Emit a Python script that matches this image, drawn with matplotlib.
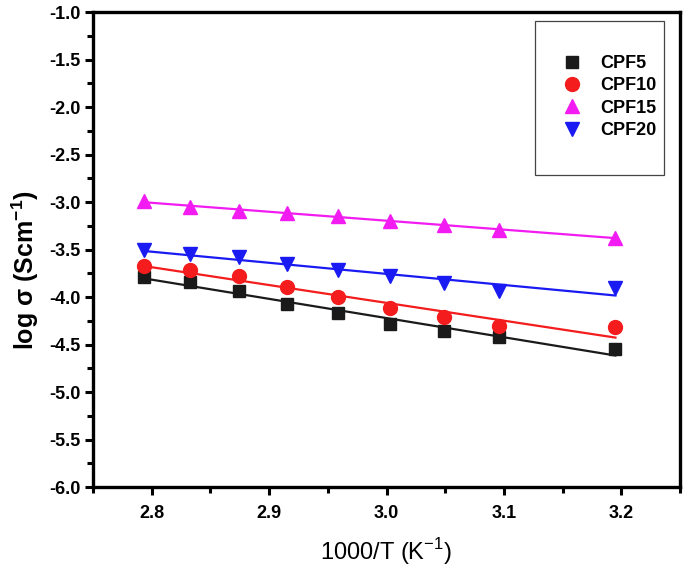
import numpy as np
import matplotlib
matplotlib.use("Agg")
from matplotlib import pyplot as plt
from matplotlib.ticker import MultipleLocator, FormatStrFormatter
from matplotlib.patches import Rectangle

plt.rcParams['font.family'] = ['Liberation Sans', 'DejaVu Sans']

inv_T = [2.793, 2.833, 2.874, 2.915, 2.959, 3.003, 3.049, 3.096, 3.195]
cpf5 = [-3.79, -3.84, -3.94, -4.07, -4.17, -4.28, -4.36, -4.42, -4.55]
cpf10 = [-3.67, -3.72, -3.78, -3.89, -4.00, -4.12, -4.21, -4.31, -4.32]
cpf15 = [-2.99, -3.05, -3.09, -3.11, -3.15, -3.20, -3.24, -3.29, -3.38]
cpf20 = [-3.505, -3.55, -3.58, -3.65, -3.72, -3.78, -3.85, -3.94, -3.90]

series = [("CPF5", cpf5, "s", "#1a1a1a", 9),
          ("CPF10", cpf10, "o", "#f41c1c", 10),
          ("CPF15", cpf15, "^", "#f21cf2", 10),
          ("CPF20", cpf20, "v", "#1a1af2", 10)]

fig = plt.figure(figsize=(6.85, 5.75), dpi=100)
ax = fig.add_axes([0.1358, 0.153, 0.8569, 0.826])

x = np.array(inv_T)
for name, y, mk, col, ms in series:
    ax.plot(x, y, linestyle="none", marker=mk, color=col, markersize=ms, label=name)
    k, b = np.polyfit(x, y, 1)
    ax.plot(x[[0, -1]], k * x[[0, -1]] + b, color=col, lw=1.6)

ax.set_xlim(2.75, 3.25)
ax.set_ylim(-6.0, -1.0)
ax.xaxis.set_major_locator(MultipleLocator(0.1))
ax.xaxis.set_minor_locator(MultipleLocator(0.05))
ax.yaxis.set_major_locator(MultipleLocator(0.5))
ax.yaxis.set_minor_locator(MultipleLocator(0.25))
ax.xaxis.set_major_formatter(FormatStrFormatter("%.1f"))
ax.yaxis.set_major_formatter(FormatStrFormatter("%.1f"))

for s in ax.spines.values():
    s.set_linewidth(2.4)
ax.tick_params(which="major", direction="out", length=6, width=2.2, labelsize=13)
ax.tick_params(axis="x", which="major", pad=7)
ax.tick_params(axis="y", which="major", pad=3)
ax.tick_params(which="minor", direction="out", length=4, width=2.2)
for lab in ax.get_xticklabels() + ax.get_yticklabels():
    lab.set_fontweight("bold")

ax.set_xlabel("1000/T (K$^{\\mathregular{-1}}$)", fontsize=17, labelpad=10)
ax.set_ylabel("log \u03c3 (Scm$^{\\mathregular{-1}}$)", fontsize=18, fontweight="bold")
ax.yaxis.set_label_coords(-0.088, 0.457)

# legend box drawn separately so its padding can match
ax.add_patch(Rectangle((0.753, 0.657), 0.220, 0.324, transform=ax.transAxes,
                       fill=False, edgecolor="#444444", lw=0.9, zorder=5))
ax.legend(loc="center", bbox_to_anchor=(0.877, 0.821), frameon=False,
          prop={"weight": "bold", "size": 13}, borderpad=0, labelspacing=0.3,
          handletextpad=0.9, handlelength=1.4)

fig.savefig("out.png", dpi=100)
